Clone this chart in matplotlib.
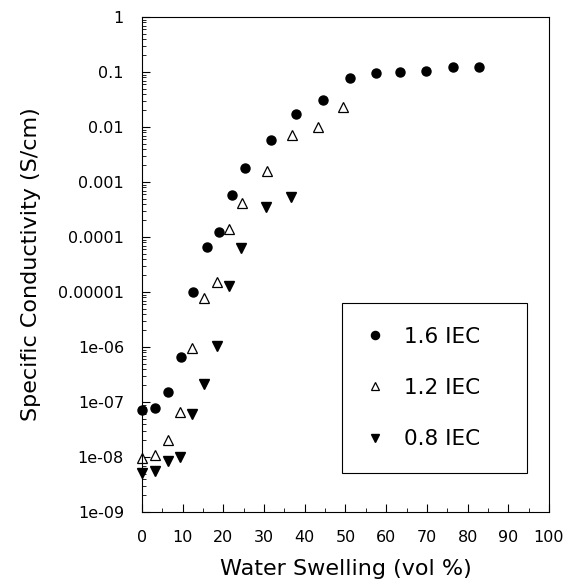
'''
specific conductivity vs water swelling, three IEC levels
saves out.png
'''
import numpy as np
import matplotlib.pyplot as plt
from matplotlib.ticker import FixedLocator, FixedFormatter, MultipleLocator, LogLocator, NullFormatter

rc_params = {
        "font.family": "DejaVu Sans",
        "axes.linewidth": 0.8,
        "xtick.direction": "in",
        "ytick.direction": "in",
        "xtick.labelsize": 11.5,
        "ytick.labelsize": 11.5,
        "axes.labelsize": 16,
        "legend.fontsize": 15.5,
    }
plt.rcParams.update(rc_params)

# 1.6 IEC
swell_16 = [0, 3.2, 6.5, 9.6, 12.6, 15.9, 19.0, 22.1, 25.4, 31.8, 37.9, 44.5,
            51.0, 57.4, 63.5, 69.9, 76.3, 82.8]
cond_16 = [7.1e-8, 7.8e-8, 1.5e-7, 6.5e-7, 1.0e-5, 6.5e-5, 1.23e-4, 5.8e-4,
           1.8e-3, 5.8e-3, 0.017, 0.031, 0.079, 0.095, 0.102, 0.105, 0.123, 0.126]

# 1.2 IEC
swell_12 = [0, 3.2, 6.5, 9.4, 12.4, 15.3, 18.4, 21.4, 24.5, 30.7, 36.9, 43.3, 49.3]
cond_12 = [9.5e-9, 1.1e-8, 2.0e-8, 6.6e-8, 9.5e-7, 7.8e-6, 1.5e-5, 1.4e-4,
           4.1e-4, 1.6e-3, 7.1e-3, 0.0102, 0.023]

# 0.8 IEC
swell_08 = [0, 3.2, 6.3, 9.4, 12.4, 15.3, 18.4, 21.3, 24.4, 30.5, 36.7]
cond_08 = [5.2e-9, 5.6e-9, 8.3e-9, 1.02e-8, 6.0e-8, 2.1e-7, 1.05e-6, 1.3e-5,
           6.2e-5, 3.5e-4, 5.4e-4]

y_ticks = [1e-9, 1e-8, 1e-7, 1e-6, 1e-5, 1e-4, 1e-3, 1e-2, 1e-1, 1]
y_tick_labels = ['1e-09', '1e-08', '1e-07', '1e-06', '0.00001', '0.0001',
                 '0.001', '0.01', '0.1', '1']

fig = plt.figure(figsize=(5.67, 5.80), dpi=100)
ax = fig.add_axes([0.2504, 0.1172, 0.7178, 0.8534])

ax.plot(swell_16, cond_16, 'o', color='black', markersize=6.5, label='1.6 IEC',
        clip_on=False)
ax.plot(swell_12, cond_12, '^', markerfacecolor='white', markeredgecolor='black',
        markeredgewidth=0.9, markersize=6.5, label='1.2 IEC', clip_on=False)
ax.plot(swell_08, cond_08, 'v', color='black', markersize=6.5, label='0.8 IEC',
        clip_on=False)

ax.set_yscale('log')
ax.set_ylim(1e-9, 1)
ax.set_xlim(0, 100)

ax.yaxis.set_major_locator(FixedLocator(y_ticks))
ax.yaxis.set_major_formatter(FixedFormatter(y_tick_labels))
ax.yaxis.set_minor_locator(LogLocator(base=10, subs=np.arange(2, 10), numticks=20))
ax.yaxis.set_minor_formatter(NullFormatter())
ax.xaxis.set_major_locator(MultipleLocator(10))
ax.xaxis.set_minor_locator(MultipleLocator(5))

ax.tick_params(which='major', length=6, width=0.8, pad=13)
ax.tick_params(which='minor', length=3, width=0.6)

ax.set_xlabel('Water Swelling (vol %)', labelpad=10)
ax.set_ylabel('Specific Conductivity (S/cm)', labelpad=12)

leg = ax.legend(loc='lower left', bbox_to_anchor=(0.491, 0.079, 0.455, 0.344),
                mode='expand', frameon=True, fancybox=False, framealpha=1,
                edgecolor='black', borderpad=1.1, labelspacing=1.45,
                handlelength=0.9, handletextpad=0.9, markerscale=0.9,
                borderaxespad=0)
leg.get_frame().set_linewidth(0.8)

plt.savefig('out.png', dpi=100)
plt.close()
